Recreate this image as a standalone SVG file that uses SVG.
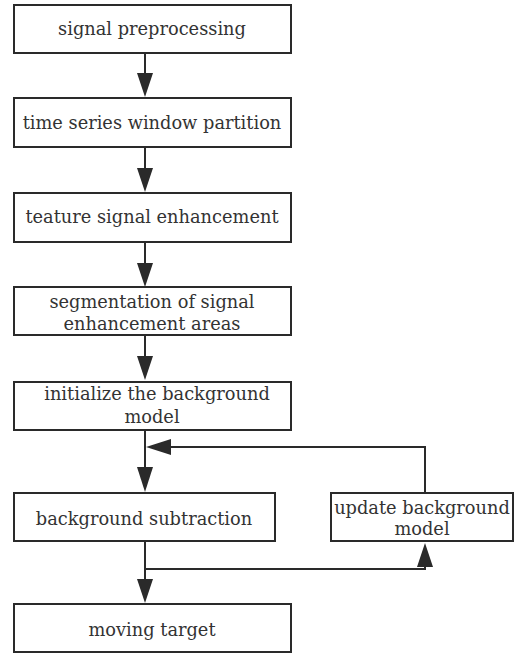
<svg xmlns="http://www.w3.org/2000/svg" width="520" height="656" viewBox="0 0 520 656">
<defs>
<style>
.box{fill:#fff;stroke:#2a2a2a;stroke-width:2}
.ln{fill:none;stroke:#2a2a2a;stroke-width:2}
.ah{fill:#2a2a2a;stroke:none}
text{font-family:"DejaVu Serif","Liberation Serif",serif;font-size:17.8px;fill:#333;text-anchor:middle}
</style>
</defs>
<rect width="520" height="656" fill="#fff"/>
<g id="connectors">
<line class="ln" x1="145" y1="53" x2="145" y2="76"/>
<polygon class="ah" points="137,73 153,73 145,97"/>
<line class="ln" x1="145" y1="147" x2="145" y2="170"/>
<polygon class="ah" points="137,168 153,168 145,192"/>
<line class="ln" x1="145" y1="242" x2="145" y2="265"/>
<polygon class="ah" points="137,263 153,263 145,287"/>
<line class="ln" x1="145" y1="335" x2="145" y2="358"/>
<polygon class="ah" points="137,356 153,356 145,380"/>
<line class="ln" x1="145" y1="430" x2="145" y2="470"/>
<polygon class="ah" points="137,467 153,467 145,492"/>
<polyline class="ln" points="425,493 425,447 168,447"/>
<polygon class="ah" points="171,439 171,455 146,447"/>
<line class="ln" x1="145" y1="541" x2="145" y2="582"/>
<polygon class="ah" points="137,579 153,579 145,603"/>
<polyline class="ln" points="145,569 425,569 425,565"/>
<polygon class="ah" points="417,567 433,567 425,543"/>
</g>
<g id="n1"><rect class="box" x="14" y="5" width="277" height="48"/><text x="152" y="35">signal preprocessing</text></g>
<g id="n2"><rect class="box" x="14" y="98" width="277" height="49"/><text x="152" y="129">time series window partition</text></g>
<g id="n3"><rect class="box" x="14" y="193" width="277" height="49"/><text x="152" y="223">teature signal enhancement</text></g>
<g id="n4"><rect class="box" x="14" y="287" width="277" height="48"/><text x="152" y="308">segmentation of signal</text><text x="152" y="330">enhancement areas</text></g>
<g id="n5"><rect class="box" x="14" y="382" width="277" height="48"/><text x="157" y="400">initialize the background</text><text x="152" y="423">model</text></g>
<g id="n6"><rect class="box" x="14" y="493" width="261" height="48"/><text x="144" y="525">background subtraction</text></g>
<g id="n7"><rect class="box" x="331" y="493" width="182" height="48"/><text x="422" y="514">update background</text><text x="422" y="535">model</text></g>
<g id="n8"><rect class="box" x="14" y="604" width="277" height="48"/><text x="152" y="636">moving target</text></g>
</svg>
